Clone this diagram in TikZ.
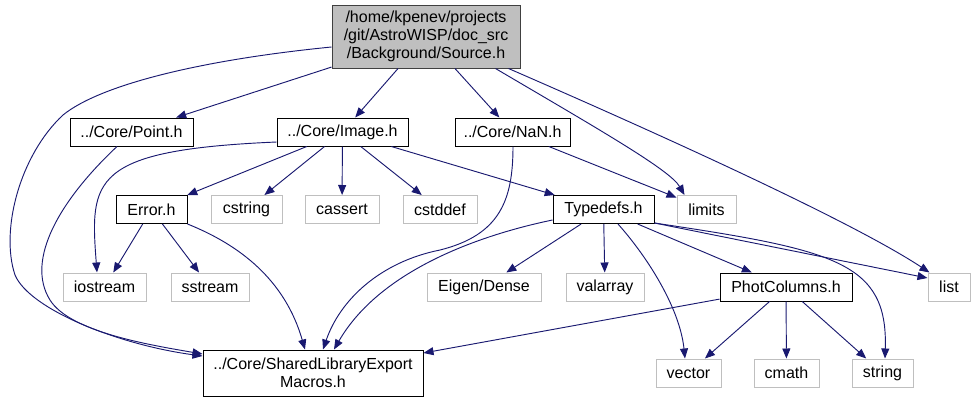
\documentclass[tikz,border=0pt]{standalone}
\usepackage{fontspec}
\setmainfont{Liberation Sans}
\usetikzlibrary{arrows.meta,calc}
\definecolor{edgeblue}{HTML}{191970}
\definecolor{sysgray}{HTML}{BFBFBF}
\definecolor{hdrfill}{HTML}{BFBFBF}
\definecolor{hdrline}{HTML}{404040}
\begin{document}
\begin{tikzpicture}[x=0.75pt,y=-0.75pt,
  box/.style={draw=black, line width=0.75pt, inner sep=0pt, minimum height=21pt,
    font=\fontsize{12pt}{13.5pt}\selectfont, text=black, align=center},
  sysbox/.style={box, draw=sysgray},
  hdrbox/.style={box, fill=hdrfill, draw=hdrline},
  edge/.style={draw=edgeblue, line width=0.7pt, -{Triangle[length=7.5pt,width=6pt]}}]
\useasboundingbox (0,0) rectangle (976,401);

% nodes
\node[hdrbox, minimum width=141pt, minimum height=47.25pt] (src) at (426,36.5)
  {/home/kpenev/projects\\/git/AstroWISP/doc\_src\\/Background/Source.h};
\node[box, minimum width=92.25pt] (point) at (131.5,132) {../Core/Point.h};
\node[box, minimum width=98.25pt] (image) at (342.5,132) {../Core/Image.h};
\node[box, minimum width=86.25pt] (nan) at (512.5,132) {../Core/NaN.h};

\node[box, minimum width=53.25pt] (error) at (151.5,209.5) {Error.h};
\node[sysbox, minimum width=53.25pt] (cstring) at (246.5,209.5) {cstring};
\node[sysbox, minimum width=55.5pt] (cassert) at (342,209.5) {cassert};
\node[sysbox, minimum width=55.5pt] (cstddef) at (440,209.5) {cstddef};
\node[box, minimum width=75.75pt] (typedefs) at (603.5,209.5) {Typedefs.h};
\node[sysbox, minimum width=44.25pt] (limits) at (706.5,209.5) {limits};

\node[sysbox, minimum width=62.25pt] (iostream) at (104.5,287) {iostream};
\node[sysbox, minimum width=58.5pt] (sstream) at (210,287) {sstream};
\node[sysbox, minimum width=85.5pt] (eigen) at (484,287) {Eigen/Dense};
\node[sysbox, minimum width=58.5pt] (valarray) at (605,287) {valarray};
\node[box, minimum width=99pt] (phot) at (786,287) {PhotColumns.h};
\node[sysbox, minimum width=31.5pt] (list) at (949,287) {list};

\node[box, minimum width=165pt, minimum height=34.5pt] (shared) at (313,373)
  {../Core/SharedLibraryExport\\Macros.h};
\node[sysbox, minimum width=48.75pt] (vector) at (688.5,373) {vector};
\node[sysbox, minimum width=48.75pt] (cmath) at (786.5,373) {cmath};
\node[sysbox, minimum width=45.75pt] (string) at (882.5,373) {string};

% edges from Source.h
\draw[edge] (src) -- (point);
\draw[edge] (src) -- (image);
\draw[edge] (src) -- (nan);
\draw[edge] ($(src.south east)+(-25,0)$) .. controls (600,130) and (670,170) .. ($(limits.north west)+(8,0)$);
\draw[edge] ($(src.south east)+(-12,0)$) .. controls (650,130) and (850,220) .. ($(list.north west)+(2,0)$);
\draw[edge] ($(src.west)+(0,10.5)$) .. controls (200,60) and (100,85) .. (63,115)
  .. controls (20,155) and (0,230) .. (15,275)
  .. controls (30,310) and (120,345) .. ($(shared.west)+(0,-17)$);

% Point.h
\draw[edge] ($(point.south)+(-14.5,0)$) .. controls (60,200) and (25,260) .. (50,300)
  .. controls (70,332) and (150,345) .. ($(shared.west)+(0,-19)$);

% Image.h
\draw[edge] (image) -- (error);
\draw[edge] ($(image.west)+(0,10)$) .. controls (90,150) and (90,180) .. ($(iostream.north)+(-7.5,0)$);
\draw[edge] (image) -- (cstring);
\draw[edge] (image) -- (cassert);
\draw[edge] (image) -- (cstddef);
\draw[edge] (image) -- (typedefs);

% NaN.h
\draw[edge] ($(nan.south)+(0.5,0)$) .. controls (513,200) and (500,235) .. (440,250)
  .. controls (380,262) and (340,300) .. ($(shared.north)+(10,0)$);
\draw[edge] (nan) -- (limits);

% Error.h
\draw[edge] (error) -- (iostream);
\draw[edge] (error) -- (sstream);
\draw[edge] (error.south east) .. controls (240,245) and (285,280) .. ($(shared.north)+(-8,0)$);

% Typedefs.h
\draw[edge] ($(typedefs.west)+(0,10.5)$) .. controls (480,235) and (380,270) .. ($(shared.north)+(21,0)$);
\draw[edge] (typedefs) -- (eigen);
\draw[edge] (typedefs) -- (valarray);
\draw[edge] ($(typedefs.south)+(14.5,0)$) .. controls (650,260) and (680,310) .. ($(vector.north)+(-3.5,0)$);
\draw[edge] (typedefs) -- (phot);
\draw[edge] ($(typedefs.south east)+(0,-1)$) -- ($(list.west)+(0,-9)$);
\draw[edge] ($(typedefs.south east)+(0,-1)$) .. controls (835,250) and (888,262) .. ($(string.north)+(2.5,0)$);

% PhotColumns.h
\draw[edge] (phot) -- (shared);
\draw[edge] (phot) -- (vector);
\draw[edge] (phot) -- (cmath);
\draw[edge] (phot) -- (string);
\end{tikzpicture}
\end{document}
